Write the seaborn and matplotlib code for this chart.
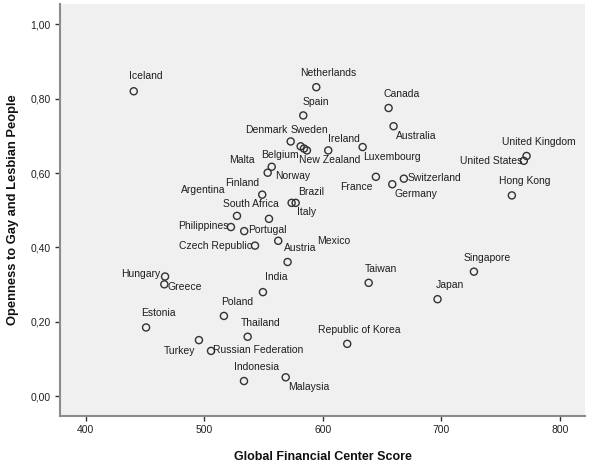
import matplotlib
matplotlib.use('Agg')
import matplotlib.pyplot as plt
import seaborn as sns
import pandas as pd
from matplotlib.ticker import FuncFormatter

# Data
countries = [
    'Iceland', 'Netherlands', 'Spain', 'Canada', 'Australia', 'Denmark', 'Belgium',
    'Sweden', 'New Zealand', 'Ireland', 'Luxembourg', 'Malta', 'Norway',
    'United Kingdom', 'United States', 'Hong Kong', 'France', 'Germany', 'Switzerland',
    'Finland', 'Argentina', 'South Africa', 'Brazil', 'Italy', 'Philippines', 'Portugal',
    'Czech Republic', 'Austria', 'Mexico', 'Hungary', 'Greece', 'India', 'Poland',
    'Estonia', 'Thailand', 'Turkey', 'Russian Federation', 'Indonesia', 'Malaysia',
    'Republic of Korea', 'Taiwan', 'Japan', 'Singapore',
]
gfc_score = [
    440.5, 594.5, 583.5, 655.5, 659.7, 572.9, 581.3,
    584.1, 586.6, 604.6, 633.6, 556.9, 553.5,
    771.9, 769.6, 759.5, 644.8, 658.6, 668.4,
    548.9, 527.6, 554.6, 573.7, 577.1, 522.5, 533.7,
    542.8, 562.4, 570.3, 466.9, 466.3, 549.5, 516.6,
    450.9, 536.6, 495.5, 505.7, 533.5, 568.7,
    620.6, 638.7, 696.8, 727.5,
]
openness = [
    0.820, 0.831, 0.755, 0.775, 0.726, 0.685, 0.672,
    0.666, 0.661, 0.661, 0.670, 0.617, 0.601,
    0.646, 0.633, 0.540, 0.590, 0.570, 0.585,
    0.542, 0.485, 0.477, 0.520, 0.520, 0.455, 0.444,
    0.405, 0.418, 0.361, 0.322, 0.301, 0.280, 0.216,
    0.185, 0.160, 0.151, 0.122, 0.041, 0.051,
    0.141, 0.305, 0.261, 0.335,
]

# label placement (pixel offsets of the label centre from its point)
label_offsets = {
    'Iceland': (12, 15), 'Netherlands': (12, 14), 'Spain': (13, 13), 'Canada': (13, 14),
    'Australia': (23, -10), 'Denmark': (-24, 11), 'Belgium': (-21, -9), 'Sweden': (5, 19),
    'New Zealand': (23, -10), 'Ireland': (16, 11), 'Luxembourg': (29, -10), 'Malta': (-30, 7),
    'Norway': (25, -3), 'United Kingdom': (12, 14), 'United States': (-33, 0),
    'Hong Kong': (13, 14), 'France': (-20, -10), 'Germany': (24, -10), 'Switzerland': (31, 1),
    'Finland': (-20, 12), 'Argentina': (-34, 26), 'South Africa': (-18, 15), 'Brazil': (19, 11),
    'Italy': (11, -9), 'Philippines': (-28, 1), 'Portugal': (23, 1), 'Czech Republic': (-40, 0),
    'Austria': (22, -7), 'Mexico': (46, 21), 'Hungary': (-24, 3), 'Greece': (20, -3),
    'India': (13, 15), 'Poland': (13, 14), 'Estonia': (12, 14), 'Thailand': (13, 14),
    'Turkey': (-19, -11), 'Russian Federation': (47, 1), 'Indonesia': (13, 14),
    'Malaysia': (23, -10), 'Republic of Korea': (12, 14), 'Taiwan': (12, 14), 'Japan': (12, 14),
    'Singapore': (13, 14),
}

df = pd.DataFrame({'country': countries, 'gfc': gfc_score, 'open': openness})

sns.set_theme(style="white")
plt.rcParams['font.family'] = ['Liberation Sans', 'DejaVu Sans']

fig = plt.figure(figsize=(5.89, 4.69), dpi=100)
ax = fig.add_axes([0.1019, 0.113, 0.8911, 0.8785])
ax.set_facecolor('#f0f0f0')

sns.scatterplot(data=df, x='gfc', y='open', ax=ax, marker='o', s=26,
                facecolor='none', edgecolor='#333333', linewidth=1.0, zorder=3)

for name, xv, yv in zip(countries, gfc_score, openness):
    dx, dy = label_offsets[name]
    ax.annotate(name, (xv, yv), xytext=(dx, dy), textcoords='offset pixels',
                ha='center', va='center', fontsize=7.5, color='#1e1e1e')

ax.set_xlim(378.3, 821.1)
ax.set_ylim(-0.053, 1.0546)
ax.set_xticks([400, 500, 600, 700, 800])
ax.set_yticks([0.0, 0.2, 0.4, 0.6, 0.8, 1.0])
ax.yaxis.set_major_formatter(FuncFormatter(lambda v, p: f"{v:.2f}".replace('.', ',')))

for side in ['top', 'right']:
    ax.spines[side].set_visible(False)
for side in ['left', 'bottom']:
    ax.spines[side].set_color('#8c8c8c')
    ax.spines[side].set_linewidth(1.5)

ax.tick_params(axis='both', direction='out', length=3.8, width=1, color='#333333',
               labelsize=7.5, labelcolor='#222222', bottom=True, left=True, pad=3)

ax.set_xlabel('Global Financial Center Score', fontsize=9, fontweight='bold',
              color='#111111', labelpad=11)
ax.set_ylabel('Openness to Gay and Lesbian People', fontsize=9.3, fontweight='bold',
              color='#111111', labelpad=8)

fig.savefig('out.png', dpi=100, facecolor='white')
